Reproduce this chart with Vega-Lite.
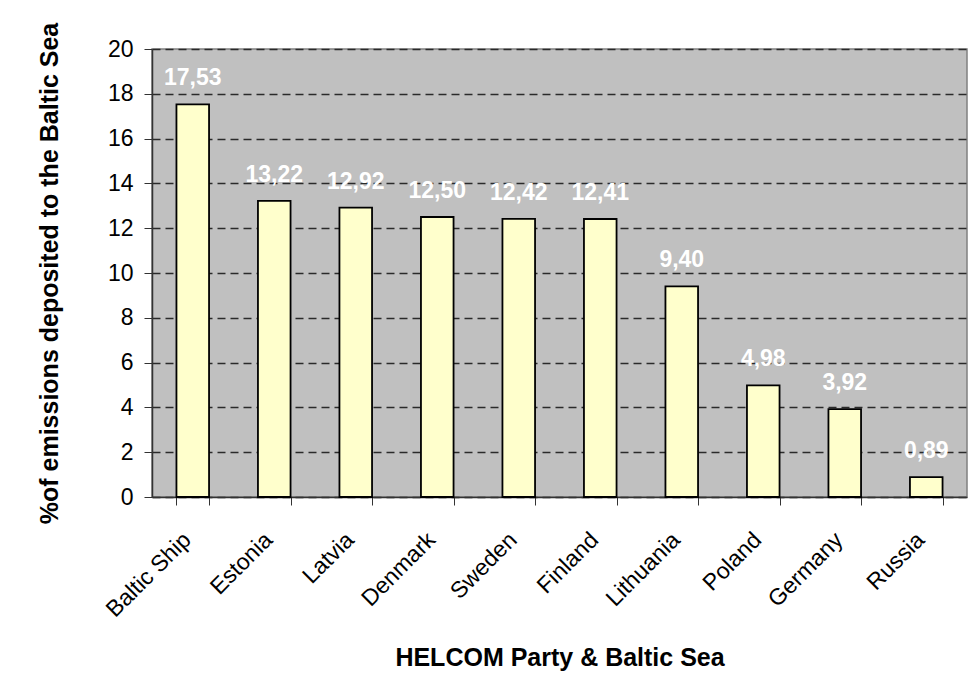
{
  "$schema": "https://vega.github.io/schema/vega-lite/v6.json",
  "autosize": {"type": "none"},
  "padding": {"left": 152, "top": 49, "right": 4, "bottom": 201},
  "width": 815,
  "height": 448,
  "background": "white",
  "data": {
    "values": [
      {"party": "Baltic Ship", "pct": 17.53},
      {"party": "Estonia", "pct": 13.22},
      {"party": "Latvia", "pct": 12.92},
      {"party": "Denmark", "pct": 12.50},
      {"party": "Sweden", "pct": 12.42},
      {"party": "Finland", "pct": 12.41},
      {"party": "Lithuania", "pct": 9.40},
      {"party": "Poland", "pct": 4.98},
      {"party": "Germany", "pct": 3.92},
      {"party": "Russia", "pct": 0.89}
    ]
  },
  "encoding": {
    "x": {
      "field": "party",
      "type": "nominal",
      "sort": null,
      "scale": {"paddingInner": 0.6, "paddingOuter": 0.3},
      "axis": {
        "title": "HELCOM Party & Baltic Sea",
        "titleFont": "Liberation Sans",
        "titleFontSize": 25,
        "titleFontWeight": "bold",
        "titleColor": "black",
        "titlePadding": 24,
        "labelFont": "Liberation Sans",
        "labelFontSize": 23,
        "labelColor": "black",
        "labelAngle": -45,
        "labelAlign": "right",
        "labelBaseline": "middle",
        "labelOffset": -6,
        "labelPadding": 31,
        "tickBand": "extent",
        "tickSize": 8,
        "tickColor": "#333333",
        "domainColor": "#333333",
        "domainWidth": 1.5,
        "grid": false
      }
    },
    "y": {
      "field": "pct",
      "type": "quantitative",
      "scale": {"domain": [0, 20], "nice": false},
      "axis": {
        "title": "%of emissions deposited to the Baltic Sea",
        "titleFont": "Liberation Sans",
        "titleFontSize": 25,
        "titleFontWeight": "bold",
        "titleColor": "black",
        "titlePadding": 45,
        "values": [0, 2, 4, 6, 8, 10, 12, 14, 16, 18, 20],
        "format": "d",
        "labelFont": "Liberation Sans",
        "labelFontSize": 23,
        "labelColor": "black",
        "labelPadding": 11,
        "tickSize": 8,
        "tickColor": "#333333",
        "domainColor": "#333333",
        "domainWidth": 1.5,
        "grid": true,
        "gridColor": "#2a2a2a",
        "gridDash": [8, 5],
        "gridWidth": 1.3
      }
    }
  },
  "layer": [
    {
      "mark": {"type": "bar", "color": "#FFFFCC", "stroke": "black", "strokeWidth": 1.8}
    },
    {
      "mark": {
        "type": "text",
        "font": "Liberation Sans",
        "fontSize": 23,
        "fontWeight": "bold",
        "color": "white",
        "baseline": "alphabetic",
        "dy": -19
      },
      "encoding": {
        "text": {"field": "pct", "type": "quantitative", "format": ".2f"}
      }
    }
  ],
  "config": {
    "locale": {
      "number": {"decimal": ",", "thousands": ".", "grouping": [3], "currency": ["", " €"]}
    },
    "view": {"fill": "#C0C0C0", "stroke": "#808080", "strokeWidth": 1.5}
  }
}
